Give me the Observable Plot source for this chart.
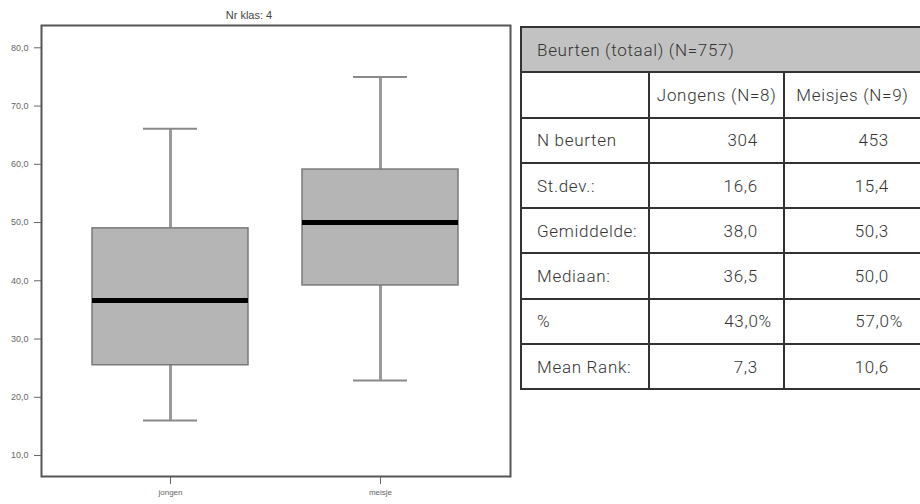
<!DOCTYPE html>
<html>
<head>
<meta charset="utf-8">
<script src="https://cdn.jsdelivr.net/npm/d3@7"></script>
<script src="https://cdn.jsdelivr.net/npm/@observablehq/plot@0.6"></script>
<style>
  html, body { margin: 0; padding: 0; background: #fff; width: 920px; height: 504px; overflow: hidden; }
  #chart { position: absolute; left: 0; top: 0; }
  #tbl { position: absolute; left: 520px; top: 26px; }
  table { border-collapse: collapse; font-family: Roboto, "Open Sans", sans-serif; font-weight: 300; font-size: 17px; letter-spacing: 0.7px; color: #333; table-layout: fixed; }
  td { border: 2px solid #333; height: 43.3px; padding: 0; vertical-align: middle; }
  td.head { background: #c2c2c2; padding-left: 15px; border-right: none; }
  td.lab { padding-left: 15px; }
  td.grp { text-align: center; }
  td.num { text-align: right; padding-right: 25px; }
  td.num3 { padding-right: 31px; border-right: none; }
  td.last { border-right: none; }
  span.pct { margin-right: -14px; }
</style>
</head>
<body>
<div id="chart"></div>
<div id="tbl"></div>
<script>
// ---- Boxplot data ----
const categories = ["jongen", "meisje"];
const whiskerLow = [16.0, 22.9];
const q1 = [25.5, 39.2];
const median = [36.6, 50.0];
const q3 = [49.0, 59.1];
const whiskerHigh = [66.1, 75.0];
const yTicks = [10, 20, 30, 40, 50, 60, 70, 80];
const chartTitle = "Nr klas: 4";

// ---- Table data ----
const tableTitle = "Beurten (totaal) (N=757)";
const groupLabels = ["Jongens (N=8)", "Meisjes (N=9)"];
const rowLabels = ["N beurten", "St.dev.:", "Gemiddelde:", "Mediaan:", "%", "Mean Rank:"];
const jongensValues = ["304", "16,6", "38,0", "36,5", "43,0%", "7,3"];
const meisjesValues = ["453", "15,4", "50,3", "50,0", "57,0%", "10,6"];

const data = categories.map((c, i) => ({
  cat: c, lo: whiskerLow[i], q1: q1[i], med: median[i], q3: q3[i], hi: whiskerHigh[i]
}));

const fmt = d => d3.format(".1f")(d).replace(".", ",");

const chart = Plot.plot({
  width: 512,
  height: 504,
  marginLeft: 41,
  marginRight: 2,
  marginTop: 25,
  marginBottom: 28,
  style: { fontFamily: "'Liberation Sans', Arial, sans-serif", background: "#fff", color: "#555" },
  x: { domain: categories, paddingInner: 0.256, paddingOuter: 0.24, label: null, tickSize: 8, tickPadding: 5 },
  y: { domain: [6.4, 83.83], ticks: yTicks, tickFormat: fmt, label: null, tickSize: 7, tickPadding: 6 },
  marks: [
    Plot.axisY({ ticks: yTicks, tickFormat: fmt, tickSize: 7, tickPadding: 6, fontSize: 9, stroke: "#666", fill: "#666", label: null }),
    Plot.axisX({ tickSize: 8, tickPadding: 5, fontSize: 8, stroke: "#666", fill: "#666", label: null }),
    Plot.ruleX(data, { x: "cat", y1: "lo", y2: "q1", stroke: "#9a9a9a", strokeWidth: 3 }),
    Plot.ruleX(data, { x: "cat", y1: "q3", y2: "hi", stroke: "#9a9a9a", strokeWidth: 3 }),
    Plot.tickY(data, { x: "cat", y: "lo", stroke: "#8a8a8a", strokeWidth: 2, insetLeft: 51, insetRight: 51 }),
    Plot.tickY(data, { x: "cat", y: "hi", stroke: "#8a8a8a", strokeWidth: 2, insetLeft: 51, insetRight: 51 }),
    Plot.barY(data, { x: "cat", y1: "q1", y2: "q3", fill: "#b5b5b5", stroke: "#7a7a7a", strokeWidth: 1.5 }),
    Plot.tickY(data, { x: "cat", y: "med", stroke: "#000", strokeWidth: 5 }),
    Plot.frame({ stroke: "#555", strokeWidth: 2 }),
    Plot.text([chartTitle], { frameAnchor: "top", dx: -27, dy: -14, fontSize: 11, fill: "#444" })
  ]
});
document.getElementById("chart").appendChild(chart);

// ---- Table ----
const tbl = document.createElement("table");
const colg = document.createElement("colgroup");
[129, 138, 140].forEach(w => { const c = document.createElement("col"); c.style.width = w + "px"; colg.appendChild(c); });
tbl.appendChild(colg);
function cellHtml(v) {
  return v.endsWith("%") ? v.slice(0, -1) + '<span class="pct">%</span>' : v;
}
let tr = tbl.insertRow();
let td = tr.insertCell(); td.colSpan = 3; td.className = "head"; td.textContent = tableTitle;
tr = tbl.insertRow();
td = tr.insertCell(); td.className = "lab";
groupLabels.forEach((g, i) => { const c = tr.insertCell(); c.className = "grp" + (i === 1 ? " last" : ""); c.textContent = g; });
rowLabels.forEach((r, i) => {
  const row = tbl.insertRow();
  const a = row.insertCell(); a.className = "lab"; a.textContent = r;
  const b = row.insertCell(); b.className = "num"; b.innerHTML = cellHtml(jongensValues[i]);
  const c = row.insertCell(); c.className = "num num3"; c.innerHTML = cellHtml(meisjesValues[i]);
});
document.getElementById("tbl").appendChild(tbl);
</script>
</body>
</html>
